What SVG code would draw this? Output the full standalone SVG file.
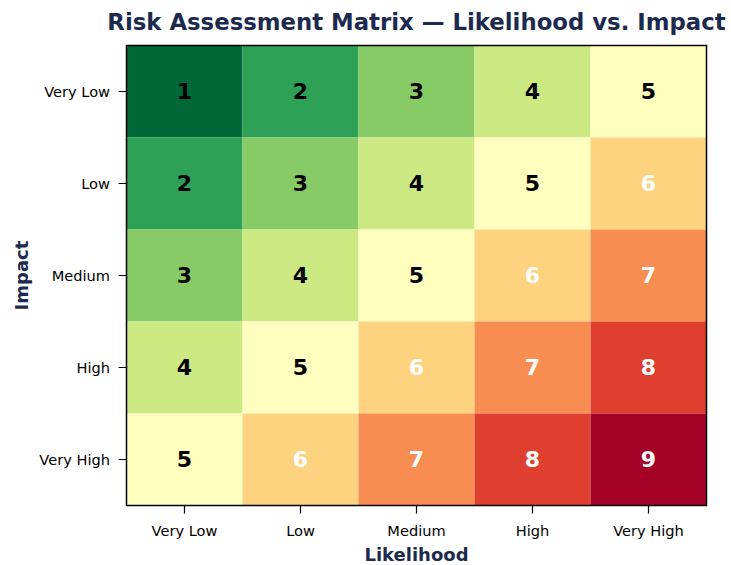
<svg xmlns="http://www.w3.org/2000/svg" width="731" height="565" viewBox="0 0 731 565">
<style>
text{font-family:"DejaVu Sans",sans-serif}
.num{font-size:22px;font-weight:bold;text-anchor:middle}
.dk{fill:#000}
.wt{fill:#fff}
.tick{font-size:14.6px;fill:#000}
.xt{text-anchor:middle}
.yt{text-anchor:end}
.lab{font-size:18px;font-weight:bold;fill:#1b2a4e;text-anchor:middle}
.tl{stroke:#000;stroke-width:1.2}
.c1{fill:#006837}.c2{fill:#2da155}.c3{fill:#86cb66}.c4{fill:#cce983}.c5{fill:#ffffbf}
.c6{fill:#fed380}.c7{fill:#f88d52}.c8{fill:#de3f2e}.c9{fill:#a50026}
</style>
<rect width="731" height="565" fill="#fff"/>
<text x="416.5" y="30" class="lab" style="font-size:22.8px">Risk Assessment Matrix — Likelihood vs. Impact</text>
<g id="cells">
<g id="r0">
<rect class="c1" x="126.5" y="45.5" width="116" height="92"/><rect class="c2" x="242.5" y="45.5" width="116" height="92"/><rect class="c3" x="358.5" y="45.5" width="116" height="92"/><rect class="c4" x="474.5" y="45.5" width="116" height="92"/><rect class="c5" x="590.5" y="45.5" width="116" height="92"/>
<text class="num dk" x="184.5" y="99.3">1</text><text class="num dk" x="300.5" y="99.3">2</text><text class="num dk" x="416.5" y="99.3">3</text><text class="num dk" x="532.5" y="99.3">4</text><text class="num dk" x="648.5" y="99.3">5</text>
</g>
<g id="r1">
<rect class="c2" x="126.5" y="137.5" width="116" height="92"/><rect class="c3" x="242.5" y="137.5" width="116" height="92"/><rect class="c4" x="358.5" y="137.5" width="116" height="92"/><rect class="c5" x="474.5" y="137.5" width="116" height="92"/><rect class="c6" x="590.5" y="137.5" width="116" height="92"/>
<text class="num dk" x="184.5" y="191.3">2</text><text class="num dk" x="300.5" y="191.3">3</text><text class="num dk" x="416.5" y="191.3">4</text><text class="num dk" x="532.5" y="191.3">5</text><text class="num wt" x="648.5" y="191.3">6</text>
</g>
<g id="r2">
<rect class="c3" x="126.5" y="229.5" width="116" height="92"/><rect class="c4" x="242.5" y="229.5" width="116" height="92"/><rect class="c5" x="358.5" y="229.5" width="116" height="92"/><rect class="c6" x="474.5" y="229.5" width="116" height="92"/><rect class="c7" x="590.5" y="229.5" width="116" height="92"/>
<text class="num dk" x="184.5" y="283.3">3</text><text class="num dk" x="300.5" y="283.3">4</text><text class="num dk" x="416.5" y="283.3">5</text><text class="num wt" x="532.5" y="283.3">6</text><text class="num wt" x="648.5" y="283.3">7</text>
</g>
<g id="r3">
<rect class="c4" x="126.5" y="321.5" width="116" height="92"/><rect class="c5" x="242.5" y="321.5" width="116" height="92"/><rect class="c6" x="358.5" y="321.5" width="116" height="92"/><rect class="c7" x="474.5" y="321.5" width="116" height="92"/><rect class="c8" x="590.5" y="321.5" width="116" height="92"/>
<text class="num dk" x="184.5" y="375.3">4</text><text class="num dk" x="300.5" y="375.3">5</text><text class="num wt" x="416.5" y="375.3">6</text><text class="num wt" x="532.5" y="375.3">7</text><text class="num wt" x="648.5" y="375.3">8</text>
</g>
<g id="r4">
<rect class="c5" x="126.5" y="413.5" width="116" height="92"/><rect class="c6" x="242.5" y="413.5" width="116" height="92"/><rect class="c7" x="358.5" y="413.5" width="116" height="92"/><rect class="c8" x="474.5" y="413.5" width="116" height="92"/><rect class="c9" x="590.5" y="413.5" width="116" height="92"/>
<text class="num dk" x="184.5" y="467.3">5</text><text class="num wt" x="300.5" y="467.3">6</text><text class="num wt" x="416.5" y="467.3">7</text><text class="num wt" x="532.5" y="467.3">8</text><text class="num wt" x="648.5" y="467.3">9</text>
</g>
</g>
<rect id="frame" x="126.5" y="45.5" width="580" height="460" fill="none" stroke="#000" stroke-width="1.5"/>
<g id="ticks">
<path class="tl" d="M184.5 505.5v8M300.5 505.5v8M416.5 505.5v8M532.5 505.5v8M648.5 505.5v8M126.5 91.5h-8M126.5 183.5h-8M126.5 275.5h-8M126.5 367.5h-8M126.5 459.5h-8"/>
<text class="tick xt" x="184.5" y="535.5">Very Low</text>
<text class="tick xt" x="300.5" y="535.5">Low</text>
<text class="tick xt" x="416.5" y="535.5">Medium</text>
<text class="tick xt" x="532.5" y="535.5">High</text>
<text class="tick xt" x="648.5" y="535.5">Very High</text>
<text class="tick yt" x="110" y="97.3">Very Low</text>
<text class="tick yt" x="110" y="189.3">Low</text>
<text class="tick yt" x="110" y="281.3">Medium</text>
<text class="tick yt" x="110" y="373.3">High</text>
<text class="tick yt" x="110" y="465.3">Very High</text>
</g>
<text class="lab" x="416.5" y="561">Likelihood</text>
<text class="lab" transform="translate(27.5 275.5) rotate(-90)">Impact</text>
</svg>
